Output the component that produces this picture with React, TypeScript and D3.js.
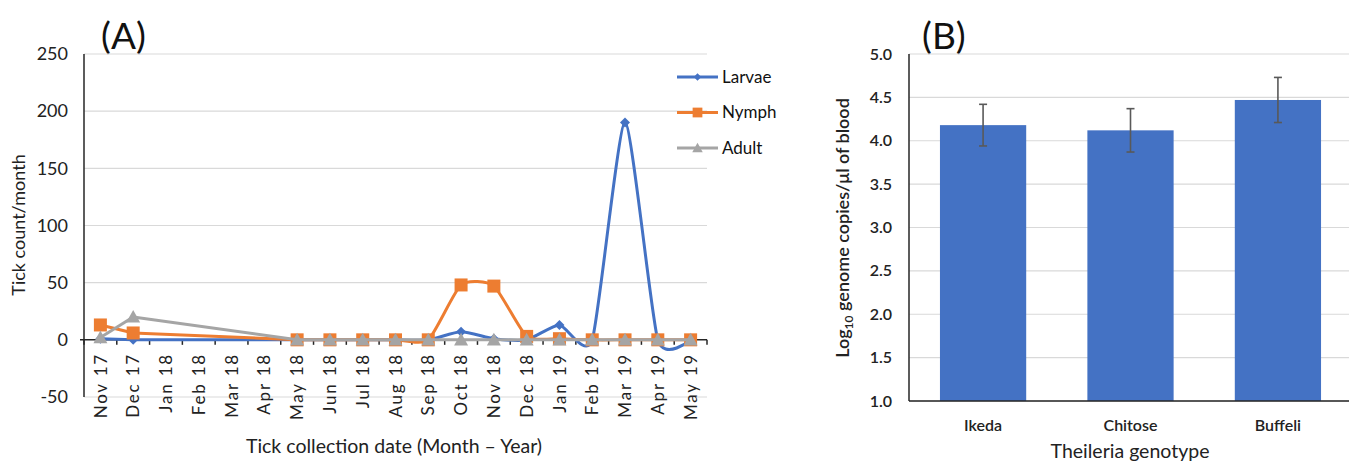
import React from "react";
import * as d3 from "d3";

const months = ["Nov 17","Dec 17","Jan 18","Feb 18","Mar 18","Apr 18","May 18","Jun 18","Jul 18","Aug 18","Sep 18","Oct 18","Nov 18","Dec 18","Jan 19","Feb 19","Mar 19","Apr 19","May 19"];
const larvae: (number | null)[] = [1,0,null,null,null,null,0,0,0,0,0,7,1,0,13,0,190,0,0];
const nymph: (number | null)[] = [13,6,null,null,null,null,0,0,0,0,0,48,47,3,1,0,0,0,0];
const adult: (number | null)[] = [2,20,null,null,null,null,0,0,0,0,0,0,0,0,0,0,0,0,0];
const yTicksA = [-50,0,50,100,150,200,250];

const genotypes = ["Ikeda","Chitose","Buffeli"];
const genomeMeans = [4.18,4.12,4.47];
const genomeErrors = [0.24,0.25,0.26];
const yTicksB = [1.0,1.5,2.0,2.5,3.0,3.5,4.0,4.5,5.0];

const BLUE = "#4472C4";
const ORANGE = "#ED7D31";
const GRAY = "#A5A5A5";
const GRID = "#D9D9D9";
const AXIS = "#262626";
const FONT = "Lato, 'Open Sans', sans-serif";

type Series = { name: string; values: (number | null)[]; color: string; marker: string };
const seriesList: Series[] = [
  { name: "Larvae", values: larvae, color: BLUE, marker: "diamond" },
  { name: "Nymph", values: nymph, color: ORANGE, marker: "square" },
  { name: "Adult", values: adult, color: GRAY, marker: "triangle" },
];

function Marker({ type, x, y, color, s = 1 }: { type: string; x: number; y: number; color: string; s?: number }) {
  if (type === "diamond") {
    const r = 5 * s;
    return <path d={`M${x},${y - r}L${x + r},${y}L${x},${y + r}L${x - r},${y}Z`} fill={color} />;
  }
  if (type === "square") {
    const r = 6.5 * s;
    return <rect x={x - r} y={y - r} width={2 * r} height={2 * r} fill={color} />;
  }
  const r = 7 * s;
  return <path d={`M${x},${y - r}L${x + r},${y + r * 0.8}L${x - r},${y + r * 0.8}Z`} fill={color} />;
}

type Pt = { i: number; m: string; v: number };

export default function App() {
  // Panel A
  const aLeft = 84, aRight = 707, aTop = 54, aBottom = 397;
  const xA = d3.scaleBand<string>().domain(months).range([aLeft, aRight]);
  const cx = (m: string) => (xA(m) as number) + xA.bandwidth() / 2;
  const yA = d3.scaleLinear().domain([-50, 250]).range([aBottom, aTop]);
  const smooth = d3
    .line<Pt>()
    .x((d) => cx(d.m))
    .y((d) => yA(d.v))
    .curve(d3.curveCardinal.tension(0.4));
  const straight = d3
    .line<Pt>()
    .x((d) => cx(d.m))
    .y((d) => yA(d.v));

  // Panel B
  const bLeft = 909, bRight = 1352, bTop = 54, bBottom = 401;
  const xB = d3.scaleBand<string>().domain(genotypes).range([bLeft, bRight]).paddingInner(0.415).paddingOuter(0.21);
  const yB = d3.scaleLinear().domain([1, 5]).range([bBottom, bTop]);

  return (
    <svg width={1349} height={463} style={{ position: "absolute", left: 0, top: 0, background: "#fff" }} fontFamily={FONT}>
      {/* ---------- Panel A ---------- */}
      <text x={101} y={49} fontSize={37} fill="#111">(A)</text>
      {yTicksA.map((t) => (
        <g key={t}>
          {t !== 0 && <line x1={aLeft} x2={aRight} y1={yA(t)} y2={yA(t)} stroke={GRID} strokeWidth={1.2} />}
          <text x={68} y={yA(t)} dy="0.35em" textAnchor="end" fontSize={18} fill="#222">{t}</text>
        </g>
      ))}
      <line x1={aLeft} x2={aLeft} y1={aTop} y2={aBottom} stroke={AXIS} strokeWidth={1.5} />
      <line x1={aLeft - 4} x2={aRight} y1={yA(0)} y2={yA(0)} stroke={AXIS} strokeWidth={1.5} />
      {months.map((m, i) => (
        <line key={"tk" + i} x1={xA(m) as number} x2={xA(m) as number} y1={yA(0)} y2={yA(0) + 5} stroke={AXIS} strokeWidth={1.5} />
      ))}
      <line x1={aRight} x2={aRight} y1={yA(0)} y2={yA(0) + 5} stroke={AXIS} strokeWidth={1.5} />
      {months.map((m) => (
        <text key={m} transform={`translate(${cx(m)},353) rotate(-90)`} textAnchor="end" dy="0.36em" fontSize={17} letterSpacing={1.8} fill="#222">{m}</text>
      ))}
      <text transform="translate(25,225) rotate(-90)" textAnchor="middle" fontSize={18} fill="#222">Tick count/month</text>
      <text x={394} y={453} textAnchor="middle" fontSize={19.5} fill="#222">Tick collection date (Month – Year)</text>

      {seriesList.map((s) => {
        const pts: Pt[] = [];
        s.values.forEach((v, i) => {
          if (v !== null) pts.push({ i, m: months[i], v });
        });
        // contiguous runs are smoothed; gaps are bridged with straight segments
        const runs: Pt[][] = [];
        const bridges: Pt[][] = [];
        pts.forEach((p, k) => {
          if (k > 0 && p.i === pts[k - 1].i + 1) runs[runs.length - 1].push(p);
          else {
            if (k > 0) bridges.push([pts[k - 1], p]);
            runs.push([p]);
          }
        });
        return (
          <g key={s.name}>
            {runs.map((r, k) => (
              <path key={"r" + k} d={smooth(r) || ""} fill="none" stroke={s.color} strokeWidth={3} strokeLinejoin="round" />
            ))}
            {bridges.map((b, k) => (
              <path key={"b" + k} d={straight(b) || ""} fill="none" stroke={s.color} strokeWidth={3} />
            ))}
            {pts.map((d) => (
              <Marker key={d.m} type={s.marker} x={cx(d.m)} y={yA(d.v)} color={s.color} />
            ))}
          </g>
        );
      })}

      {seriesList.map((s, i) => {
        const ly = 77 + i * 35.5;
        return (
          <g key={"lg" + s.name}>
            <line x1={677} x2={718} y1={ly} y2={ly} stroke={s.color} strokeWidth={3} />
            <Marker type={s.marker} x={697.5} y={ly} color={s.color} s={0.75} />
            <text x={722} y={ly} dy="0.35em" fontSize={17} fill="#111">{s.name}</text>
          </g>
        );
      })}

      {/* ---------- Panel B ---------- */}
      <text x={922} y={49} fontSize={37} fill="#111">(B)</text>
      {yTicksB.map((t) => (
        <g key={t}>
          <line x1={bLeft} x2={1349} y1={yB(t)} y2={yB(t)} stroke={GRID} strokeWidth={1.2} />
          <text x={892} y={yB(t)} dy="0.35em" textAnchor="end" fontSize={16} fontWeight={600} fill="#222">{t.toFixed(1)}</text>
        </g>
      ))}
      {genotypes.map((g, i) => {
        const x0 = xB(g) as number;
        const c = x0 + xB.bandwidth() / 2;
        const m = genomeMeans[i];
        const e = genomeErrors[i];
        return (
          <g key={g}>
            <rect x={x0} y={yB(m)} width={xB.bandwidth()} height={yB(1) - yB(m)} fill={BLUE} />
            <line x1={c} x2={c} y1={yB(m + e)} y2={yB(m - e)} stroke="#595959" strokeWidth={1.6} />
            <line x1={c - 4} x2={c + 4} y1={yB(m + e)} y2={yB(m + e)} stroke="#595959" strokeWidth={1.6} />
            <line x1={c - 4} x2={c + 4} y1={yB(m - e)} y2={yB(m - e)} stroke="#595959" strokeWidth={1.6} />
            <text x={c} y={425} dy="0.35em" textAnchor="middle" fontSize={16} fontWeight={600} fill="#222">{g}</text>
          </g>
        );
      })}
      <line x1={bLeft} x2={bLeft} y1={bTop} y2={bBottom} stroke={AXIS} strokeWidth={1.5} />
      <line x1={bLeft} x2={1349} y1={bBottom} y2={bBottom} stroke={AXIS} strokeWidth={1.5} />
      <text transform="translate(849,228) rotate(-90)" textAnchor="middle" fontSize={18} fontWeight={600} fill="#222">
        Log<tspan fontSize={12} dy={4}>10</tspan><tspan dy={-4}> genome copies/μl of blood</tspan>
      </text>
      <text x={1130} y={458} textAnchor="middle" fontSize={19.5} fill="#222">Theileria genotype</text>
    </svg>
  );
}
